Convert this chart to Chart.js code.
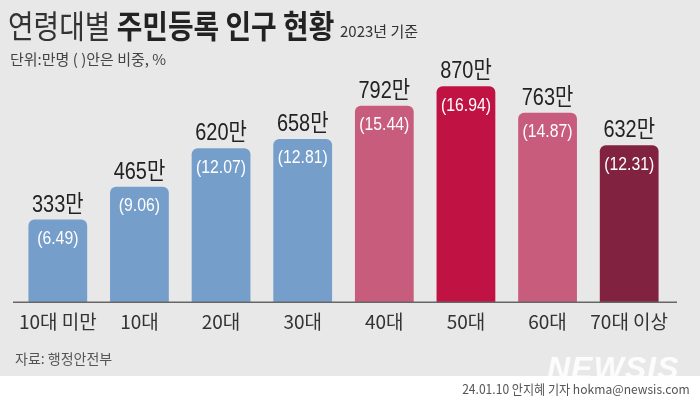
<!DOCTYPE html>
<html>
<head>
<meta charset="utf-8">
<script src="https://cdn.jsdelivr.net/npm/chart.js@4.4.1/dist/chart.umd.min.js"></script>
<style>
  html, body { margin: 0; padding: 0; }
  body { width: 700px; height: 399px; position: relative; overflow: hidden; background: #fff; font-family: 'Noto Sans CJK KR', sans-serif; }
  #bg { position: absolute; left: 0; top: 0; width: 700px; height: 376px; background: #e8e8e8; }
  #chartbox { position: absolute; left: 0; top: 0; width: 700px; height: 399px; }
  .txt { position: absolute; white-space: nowrap; line-height: 1; }
  #title { left: 8px; top: 8px; font-size: 32px; color: #222; transform: scaleX(0.87); transform-origin: left top; }
  #title .light { font-weight: 400; color: #333; }
  #title .bold { font-weight: 700; }
  #year { left: 340px; top: 23px; font-size: 15px; color: #333; }
  #unit { left: 10px; top: 51px; font-size: 15px; color: #444; }
  #source { left: 15px; top: 351px; font-size: 14px; color: #555; }
  #logo { left: 547px; top: 352px; font-family: 'Liberation Sans', sans-serif; font-weight: 700; font-style: italic; font-size: 32px; color: rgba(255,255,255,0.9); letter-spacing: 1px; }
  #credit { right: 10px; top: 382px; font-size: 13px; color: #555; transform: scaleX(0.93); transform-origin: right top; }
</style>
</head>
<body>
<div id="bg"></div>
<div class="txt" id="logo">NEWSIS</div>
<div id="chartbox"><canvas id="chart"></canvas></div>
<div class="txt" id="title"><span class="light">연령대별</span> <span class="bold">주민등록 인구 현황</span></div>
<div class="txt" id="year">2023년 기준</div>
<div class="txt" id="unit">단위:만명 ( )안은 비중, %</div>
<div class="txt" id="source">자료: 행정안전부</div>
<div class="txt" id="credit">24.01.10 안지혜 기자 hokma@newsis.com</div>
<script>
// 연령대별 인구 (만명) 과 비중 (%)
const ageGroups = ['10대 미만', '10대', '20대', '30대', '40대', '50대', '60대', '70대 이상'];
const population = [333, 465, 620, 658, 792, 870, 763, 632];
const shares = [6.49, 9.06, 12.07, 12.81, 15.44, 16.94, 14.87, 12.31];

const BLUE = '#769ecb', PINK = '#c75c7c', RED = '#c11343', WINE = '#812240';
const barColors = [BLUE, BLUE, BLUE, BLUE, PINK, RED, PINK, WINE];

// condensed text helper
function narrowText(ctx, text, x, y, font, color, sx, baseline) {
  ctx.save();
  ctx.translate(x, y);
  ctx.scale(sx, 1);
  ctx.font = font;
  ctx.fillStyle = color;
  ctx.textAlign = 'center';
  ctx.textBaseline = baseline;
  ctx.fillText(text, 0, 0);
  ctx.restore();
}

const barLabels = {
  id: 'barLabels',
  afterDatasetsDraw(chart) {
    const ctx = chart.ctx;
    const meta = chart.getDatasetMeta(0);
    meta.data.forEach((bar, i) => {
      narrowText(ctx, population[i] + '만', bar.x, bar.y - 8,
        "24px 'Liberation Sans', 'Noto Sans CJK KR'", '#222', 0.83, 'alphabetic');
      narrowText(ctx, '(' + shares[i].toFixed(2) + ')', bar.x, bar.y + 19,
        "19px 'Liberation Sans'", '#fff', 0.83, 'middle');
    });
    // baseline
    const y0 = chart.scales.y.getPixelForValue(0);
    ctx.save();
    ctx.strokeStyle = '#666';
    ctx.lineWidth = 1.5;
    ctx.beginPath();
    ctx.moveTo(13, y0);
    ctx.lineTo(677, y0);
    ctx.stroke();
    ctx.restore();
  }
};

new Chart(document.getElementById('chart'), {
  type: 'bar',
  data: {
    labels: ageGroups,
    datasets: [{
      data: population,
      backgroundColor: barColors,
      borderRadius: { topLeft: 6, topRight: 6 },
      borderSkipped: 'bottom',
      categoryPercentage: 1,
      barPercentage: 0.72
    }]
  },
  options: {
    responsive: true,
    maintainAspectRatio: false,
    animation: false,
    layout: { padding: { left: 17, right: 30, top: 54, bottom: 58 } },
    scales: {
      x: {
        grid: { display: false, drawTicks: false },
        border: { display: false },
        ticks: {
          color: '#333', padding: 8, autoSkip: false, maxRotation: 0, minRotation: 0,
          font: { family: "'Noto Sans CJK KR'", size: 19 }
        }
      },
      y: { display: false, min: 0, max: 1000 }
    },
    plugins: { legend: { display: false }, tooltip: { enabled: false } }
  },
  plugins: [barLabels]
});
</script>
</body>
</html>
